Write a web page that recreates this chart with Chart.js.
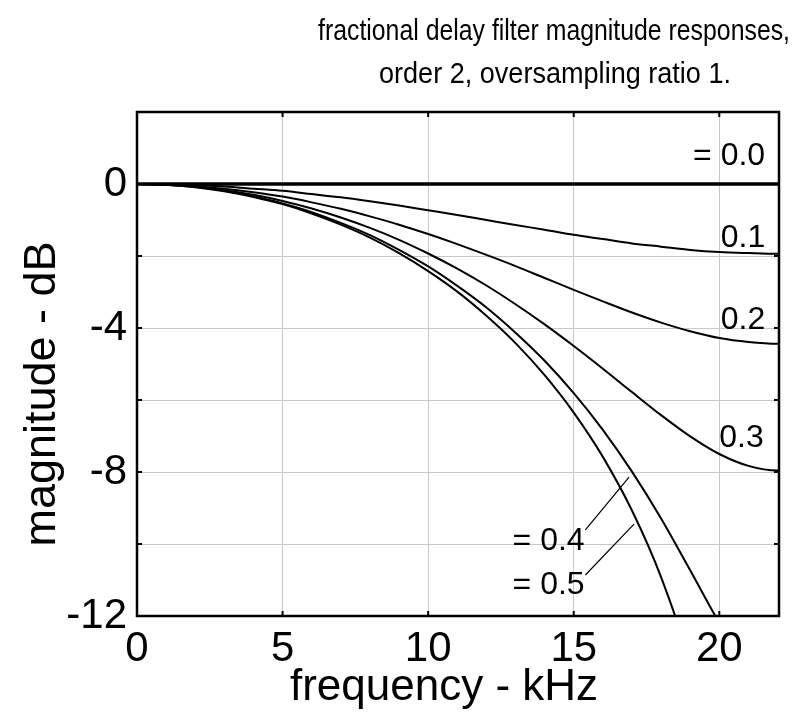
<!DOCTYPE html>
<html>
<head>
<meta charset="utf-8">
<script src="https://cdn.jsdelivr.net/npm/chart.js@4"></script>
<style>
  html, body { margin: 0; padding: 0; background: #fff; }
  #wrap { width: 807px; height: 713px; }
</style>
</head>
<body>
<div id="wrap"><canvas id="fdChart" width="807" height="713"></canvas></div>
<script>
// frequency axis (kHz), last point is Nyquist at 44.1 kHz
const freqKHz = [0, 1, 2, 3, 4, 5, 6, 7, 8, 9, 10, 11, 12, 13, 14, 15, 16, 17, 18, 19, 20, 21, 22, 22.05];

// magnitude (dB) for each fractional delay
const mag00 = [0, 0, 0, 0, 0, 0, 0, 0, 0, 0, 0, 0, 0, 0, 0, 0, 0, 0, 0, 0, 0, 0, 0, 0];
const mag01 = [0, -0.01, -0.03, -0.07, -0.13, -0.19, -0.28, -0.37, -0.48, -0.60, -0.73, -0.86, -1.00, -1.14, -1.27, -1.41, -1.53, -1.65, -1.74, -1.83, -1.89, -1.92, -1.94, -1.94];
const mag02 = [0, -0.01, -0.06, -0.13, -0.23, -0.35, -0.51, -0.69, -0.90, -1.13, -1.39, -1.67, -1.97, -2.28, -2.61, -2.94, -3.26, -3.57, -3.85, -4.09, -4.28, -4.39, -4.44, -4.44];
const mag03 = [0, -0.02, -0.07, -0.17, -0.30, -0.47, -0.68, -0.93, -1.22, -1.55, -1.93, -2.35, -2.82, -3.34, -3.90, -4.50, -5.13, -5.78, -6.42, -7.01, -7.50, -7.83, -7.96, -7.96];
const mag04 = [0, -0.02, -0.08, -0.19, -0.34, -0.54, -0.78, -1.08, -1.42, -1.83, -2.29, -2.83, -3.43, -4.13, -4.91, -5.81, -6.83, -7.99, -9.29, -10.73, -12.19, -13.43, -13.98, -13.98];
const mag05 = [0, -0.02, -0.09, -0.20, -0.36, -0.56, -0.82, -1.13, -1.49, -1.92, -2.42, -2.99, -3.66, -4.42, -5.31, -6.35, -7.58, -9.07, -10.92, -13.33, -16.74, null, null, null];

// axis ticks
const xTickValues = [0, 5, 10, 15, 20];
const yGridValues = [2, 0, -2, -4, -6, -8, -10, -12];
const yLabelValues = [0, -4, -8, -12];

// curve labels (text, kHz, dB) and leader lines (kHz, dB -> kHz, dB)
const curveLabels = [
    ['= 0.0', 19.1, 0.53],
    ['0.1', 20.05, -1.75],
    ['0.2', 20.05, -4.02],
    ['0.3', 20.0, -7.31],
    ['= 0.4', 12.9, -10.17],
    ['= 0.5', 12.9, -11.39]
];
const leaders = [
    [15.4, -9.61, 16.9, -8.14],
    [15.4, -10.86, 17.07, -9.45]
];

const FONT = "'Liberation Sans', Arial, sans-serif";

function toPoints(values) {
    return freqKHz.map((f, i) => ({ x: f, y: values[i] }));
}

function lineSet(label, values, width) {
    return {
        label: label,
        data: toPoints(values),
        borderColor: '#000',
        borderWidth: width,
        pointRadius: 0,
        fill: false,
        cubicInterpolationMode: 'monotone'
    };
}

// draws text squeezed horizontally to a given width
function fitText(ctx, text, cx, baseline, width) {
    const w = ctx.measureText(text).width;
    ctx.save();
    ctx.translate(cx, baseline);
    ctx.scale(width / w, 1);
    ctx.fillText(text, 0, 0);
    ctx.restore();
}

const framePlugin = {
    id: 'framePlugin',
    afterDraw(chart) {
        const ctx = chart.ctx;
        const a = chart.chartArea;
        const xs = chart.scales.x;
        const ys = chart.scales.y;

        ctx.save();
        ctx.strokeStyle = '#000';

        // inward tick marks
        ctx.lineWidth = 2;
        ctx.beginPath();
        xTickValues.forEach(v => {
            if (v === 0) return;
            const px = xs.getPixelForValue(v);
            ctx.moveTo(px, a.top); ctx.lineTo(px, a.top + 5);
            ctx.moveTo(px, a.bottom); ctx.lineTo(px, a.bottom - 5);
        });
        yGridValues.forEach(v => {
            const py = ys.getPixelForValue(v);
            ctx.moveTo(a.left, py); ctx.lineTo(a.left + 5, py);
            ctx.moveTo(a.right, py); ctx.lineTo(a.right - 5, py);
        });
        ctx.stroke();

        // frame
        ctx.lineWidth = 2.5;
        ctx.strokeRect(a.left, a.top, a.right - a.left, a.bottom - a.top);

        // leader lines
        ctx.lineWidth = 1.2;
        ctx.beginPath();
        leaders.forEach(l => {
            ctx.moveTo(xs.getPixelForValue(l[0]), ys.getPixelForValue(l[1]));
            ctx.lineTo(xs.getPixelForValue(l[2]), ys.getPixelForValue(l[3]));
        });
        ctx.stroke();

        // curve labels
        ctx.fillStyle = '#000';
        ctx.font = '32px ' + FONT;
        ctx.textAlign = 'left';
        ctx.textBaseline = 'alphabetic';
        curveLabels.forEach(c => {
            ctx.fillText(c[0], xs.getPixelForValue(c[1]), ys.getPixelForValue(c[2]));
        });

        // title, two lines
        ctx.textAlign = 'center';
        ctx.font = '29px ' + FONT;
        fitText(ctx, 'fractional delay filter magnitude responses,', 554, 40, 472);
        fitText(ctx, 'order 2, oversampling ratio 1.', 555, 83, 352);

        // axis titles
        ctx.font = '44px ' + FONT;
        ctx.fillText('frequency - kHz', 444, 700);
        ctx.save();
        ctx.translate(55, 394);
        ctx.rotate(-Math.PI / 2);
        fitText(ctx, 'magnitude - dB', 0, 0, 305);
        ctx.restore();

        ctx.restore();
    }
};

const ctx = document.getElementById('fdChart');
new Chart(ctx, {
    type: 'line',
    data: {
        datasets: [
            lineSet('0.0', mag00, 3.5),
            lineSet('0.1', mag01, 2),
            lineSet('0.2', mag02, 2),
            lineSet('0.3', mag03, 2),
            lineSet('0.4', mag04, 2),
            lineSet('0.5', mag05, 2)
        ]
    },
    options: {
        responsive: false,
        animation: false,
        layout: { padding: { top: 112, right: 28, bottom: 0, left: 0 } },
        plugins: {
            legend: { display: false },
            title: { display: false },
            tooltip: { enabled: false }
        },
        scales: {
            x: {
                type: 'linear',
                min: 0,
                max: 22.05,
                afterFit: scale => { scale.height = 97; },
                border: { display: false },
                grid: { color: '#c8c8c8', lineWidth: 1, drawTicks: false },
                ticks: {
                    stepSize: 5,
                    includeBounds: false,
                    padding: 8,
                    color: '#000',
                    font: { family: FONT, size: 42 },
                    maxRotation: 0,
                    callback: v => xTickValues.includes(v) ? String(v) : ''
                }
            },
            y: {
                type: 'linear',
                min: -12,
                max: 2,
                afterFit: scale => { scale.width = 137; },
                border: { display: false },
                grid: { color: '#c8c8c8', lineWidth: 1, drawTicks: false },
                ticks: {
                    stepSize: 2,
                    padding: 10,
                    color: '#000',
                    font: { family: FONT, size: 42 },
                    callback: v => yLabelValues.includes(v) ? String(v) : ''
                }
            }
        }
    },
    plugins: [framePlugin]
});
</script>
</body>
</html>
